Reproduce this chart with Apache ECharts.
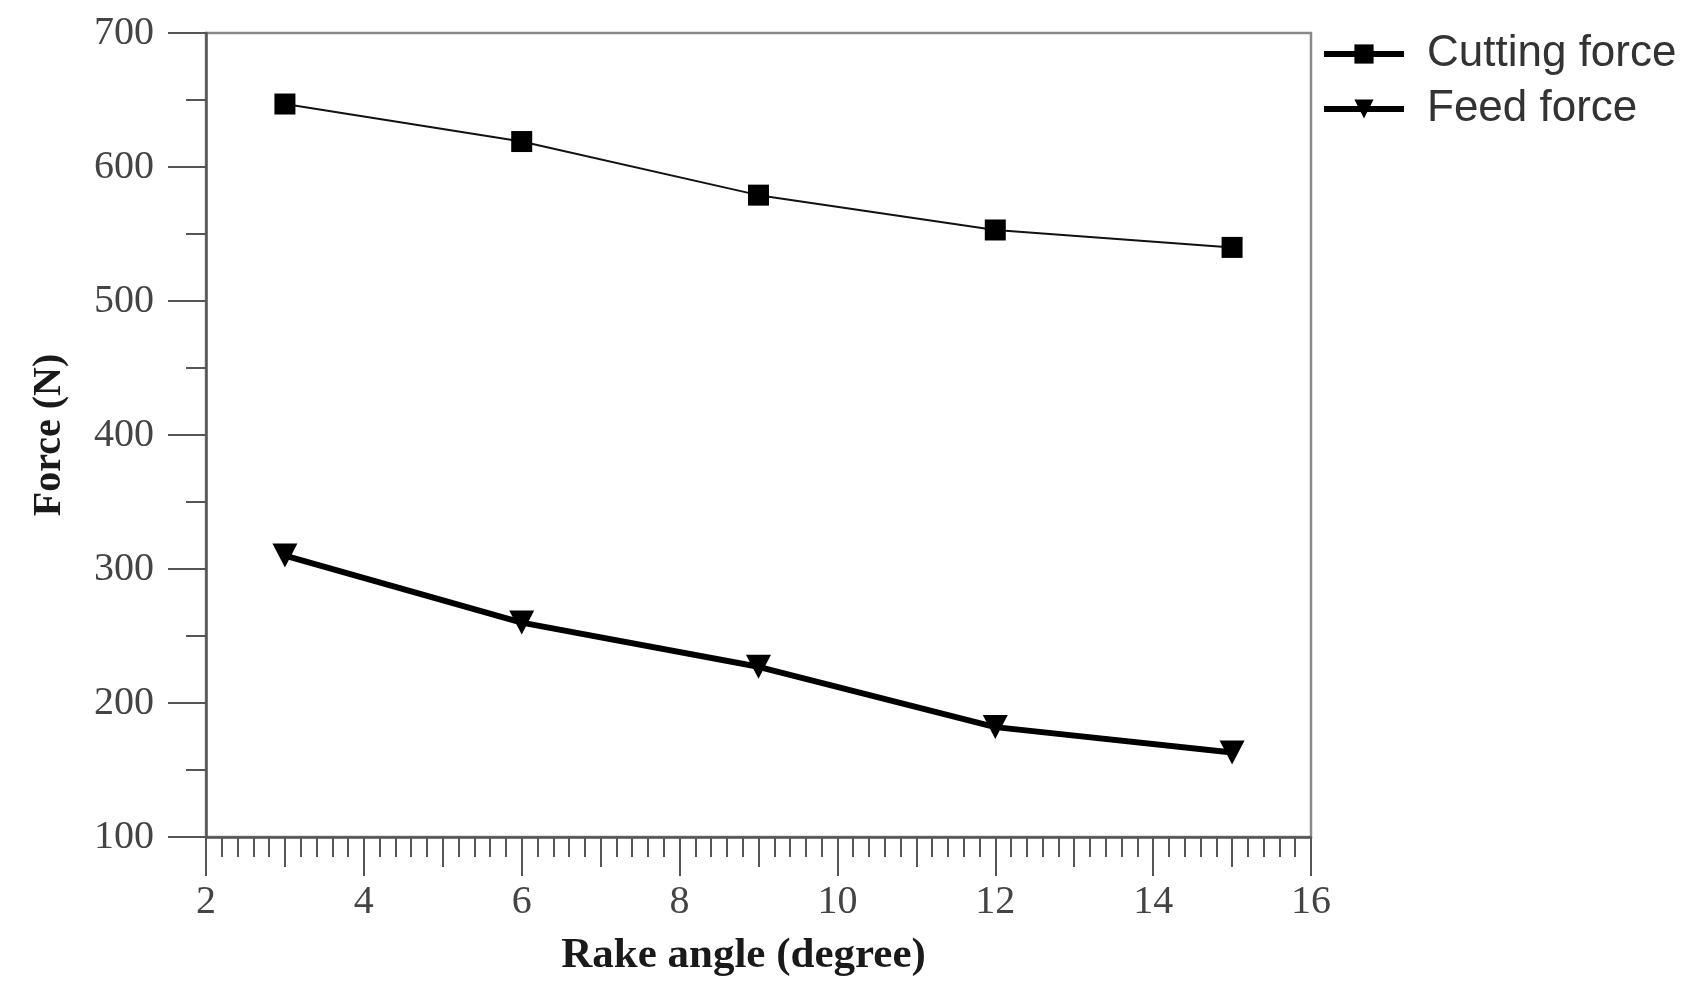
<!DOCTYPE html>
<html>
<head>
<meta charset="utf-8">
<script src="https://cdn.jsdelivr.net/npm/echarts@6/dist/echarts.min.js"></script>
<style>
html,body{margin:0;padding:0;background:#fff;}
#c{width:1689px;height:982px;}
</style>
</head>
<body>
<div id="c"></div>
<script>
var rakeAngles = [3, 6, 9, 12, 15];
var cuttingForce = [647, 619, 579, 553, 540];
var feedForce = [310, 260, 227, 182, 163];
var seriesNames = ['Cutting force', 'Feed force'];
var xTitle = 'Rake angle (degree)';
var yTitle = 'Force (N)';

var serif = '"Liberation Serif", "Times New Roman", serif';
var sans = '"Liberation Sans", Arial, sans-serif';

function pairs(xs, ys) { return xs.map(function (x, i) { return [x, ys[i]]; }); }

var chart = echarts.init(document.getElementById('c'));
chart.setOption({
  backgroundColor: '#fff',
  animation: false,
  grid: {
    left: 206, right: 378, top: 33, bottom: 144,
    show: true, borderColor: '#8a8a8a', borderWidth: 2.5, backgroundColor: 'transparent'
  },
  legend: {
    left: 1316, top: 27, orient: 'vertical',
    itemWidth: 80, itemHeight: 24, itemGap: 11,
    textStyle: { fontFamily: sans, fontSize: 44, color: '#333', padding: [0, 0, 0, 18] },
    data: [
      { name: seriesNames[0], lineStyle: { width: 6, color: '#000' } },
      { name: seriesNames[1], lineStyle: { width: 6, color: '#000' } }
    ]
  },
  xAxis: [{
    type: 'value', min: 2, max: 16, interval: 2, position: 'bottom',
    name: xTitle, nameLocation: 'middle', nameGap: 97,
    nameTextStyle: { fontFamily: serif, fontSize: 43, fontWeight: 'bold', color: '#1a1a1a', padding: [0, 30, 0, 0] },
    axisLine: { show: true, onZero: false, lineStyle: { color: '#555', width: 2.5 } },
    axisTick: { show: true, inside: false, length: 39, lineStyle: { color: '#555', width: 2 } },
    minorTick: { show: true, splitNumber: 10, length: 20, lineStyle: { color: '#555', width: 2 } },
    axisLabel: { margin: 45, fontFamily: serif, fontSize: 40, color: '#444' },
    splitLine: { show: false }, minorSplitLine: { show: false }
  }, {
    type: 'value', min: 2, max: 16, interval: 1, position: 'bottom',
    axisLine: { show: false, onZero: false },
    axisTick: { show: true, inside: false, length: 30, lineStyle: { color: '#555', width: 2 } },
    axisLabel: { show: false }, splitLine: { show: false }
  }],
  yAxis: {
    type: 'value', min: 100, max: 700, interval: 100,
    name: yTitle, nameLocation: 'middle', nameGap: 136,
    nameTextStyle: { fontFamily: serif, fontSize: 40, fontWeight: 'bold', color: '#1a1a1a' },
    axisLine: { show: true, onZero: false, lineStyle: { color: '#555', width: 2.5 } },
    axisTick: { show: true, inside: false, length: 38, lineStyle: { color: '#555', width: 2 } },
    minorTick: { show: true, splitNumber: 2, length: 20, lineStyle: { color: '#555', width: 2 } },
    axisLabel: { margin: 52, fontFamily: serif, fontSize: 40, color: '#444' },
    splitLine: { show: false }, minorSplitLine: { show: false }
  },
  series: [{
    name: seriesNames[0], type: 'line', xAxisIndex: 0,
    data: pairs(rakeAngles, cuttingForce),
    symbol: 'rect', symbolSize: 21,
    itemStyle: { color: '#000' },
    lineStyle: { color: '#111', width: 2 }
  }, {
    name: seriesNames[1], type: 'line', xAxisIndex: 0,
    data: pairs(rakeAngles, feedForce),
    symbol: 'triangle', symbolRotate: 180, symbolSize: [25, 24],
    itemStyle: { color: '#000' },
    lineStyle: { color: '#000', width: 6 }
  }]
});
</script>
</body>
</html>
